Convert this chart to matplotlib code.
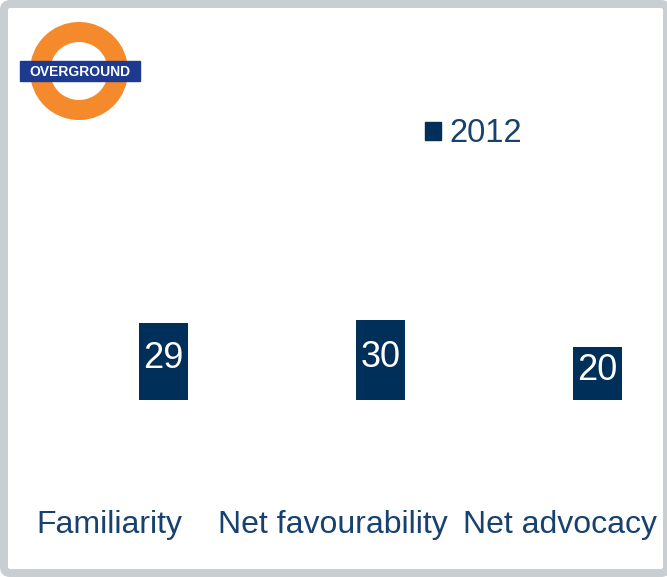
import matplotlib.pyplot as plt
import matplotlib.patches as mpatches
from matplotlib.patches import Circle, Rectangle, FancyBboxPatch

# ── Data ──────────────────────────────────────────────────────────────────────
categories = ["Familiarity", "Net favourability", "Net advocacy"]
values_2012 = [29, 30, 20]
series_name = "2012"

C_BAR    = "#002F5A"
C_TEXT   = "#17426F"
C_BORDER = "#C9CED3"
C_ORANGE = "#F58A2C"
C_BLUE   = "#1D3A8F"

plt.rcParams["font.family"] = ["Liberation Sans", "DejaVu Sans"]

W, H = 667, 577
fig = plt.figure(figsize=(W / 100, H / 100), dpi=100)

def px_axes(left, top, width, height):
    """Axes placed in pixel units measured from the top-left corner."""
    return fig.add_axes([left / W, 1 - (top + height) / H, width / W, height / H])

# ── Bars ──────────────────────────────────────────────────────────────────────
unit_x = 217.0          # pixels per category step
ax_left, ax_right = 20, 647
x0_px = 163.5           # pixel position of the first bar
ax = px_axes(ax_left, 100, ax_right - ax_left, 300)
ax.set_xlim(-(x0_px - ax_left) / unit_x, (ax_right - x0_px) / unit_x)
ax.set_ylim(0, 112.5)

xs = list(range(len(categories)))
bars = ax.bar(xs, values_2012, width=0.223, color=C_BAR, label=series_name)
ax.bar_label(bars, labels=[str(v) for v in values_2012], label_type="center",
             color="white", fontsize=26, padding=2)

# category labels sit left of the bars (empty comparison slot)
label_shift = [-0.25, -0.22, -0.175]
ax.set_xticks([x + d for x, d in zip(xs, label_shift)])
ax.set_xticklabels(categories, fontsize=23, color=C_TEXT)
ax.tick_params(axis="x", length=0, pad=79)
ax.set_yticks([])
for s in ax.spines.values():
    s.set_visible(False)
ax.patch.set_alpha(0)

handle = mpatches.Patch(color=C_BAR, label=series_name)
fig.legend(handles=[handle], loc="center left",
           bbox_to_anchor=(425 / W, 1 - 134 / H), frameon=False,
           fontsize=23.5, labelcolor=C_TEXT, handlelength=0.48, handleheight=0.48,
           handletextpad=0.28, borderpad=0, borderaxespad=0)

# ── Roundel logo ──────────────────────────────────────────────────────────────
lg = px_axes(15, 15, 130, 115)
lg.set_xlim(15, 145)
lg.set_ylim(130, 15)
lg.set_aspect("equal")
lg.axis("off")
lg.add_patch(Circle((79, 71), 39, fill=False, lw=20 * 0.72, ec=C_ORANGE))
lg.add_patch(Rectangle((20, 61), 120, 20, color=C_BLUE))
lg.text(80, 71.5, "OVERGROUND", color="white", fontsize=10, fontweight="bold",
        ha="center", va="center")

# ── Frame ─────────────────────────────────────────────────────────────────────
frame = fig.add_axes([0, 0, 1, 1], zorder=-1)
frame.set_xlim(0, W)
frame.set_ylim(H, 0)
frame.axis("off")
frame.add_patch(FancyBboxPatch((4, 4), W - 8 + 4, H - 8, boxstyle="round,pad=0,rounding_size=6",
                               fill=False, ec=C_BORDER, lw=8 * 0.72))

fig.savefig("out.png", dpi=100)
